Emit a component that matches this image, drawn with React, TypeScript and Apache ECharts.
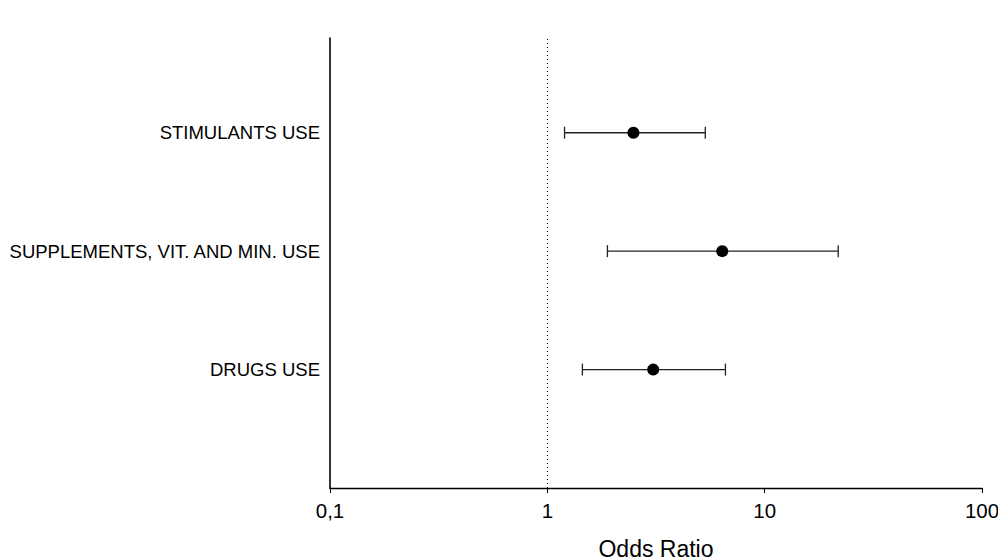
import React, { useEffect, useRef } from "react";
import * as echarts from "echarts";

const categories = ["DRUGS USE", "SUPPLEMENTS, VIT. AND MIN. USE", "STIMULANTS USE"];
const oddsRatio = [3.07, 6.38, 2.49];
const ciLow = [1.45, 1.89, 1.2];
const ciHigh = [6.6, 21.8, 5.33];
const xTicks = [0.1, 1, 10, 100];
const xTickLabels = ["0,1", "1", "10", "100"];

const FONT = "'Liberation Sans', Arial, sans-serif";

export default function App() {
  const ref = useRef<HTMLDivElement>(null);
  useEffect(() => {
    if (!ref.current) return;
    const chart = echarts.init(ref.current, undefined, { renderer: "svg" });
    const barData = categories.map((_, i) => [i + 1, ciLow[i], ciHigh[i]]);
    const pointData = categories.map((_, i) => [oddsRatio[i], i + 1]);
    chart.setOption({
      animation: false,
      backgroundColor: "#ffffff",
      grid: { left: 330, right: 16, top: 38, bottom: 72, containLabel: false, outerBoundsMode: "none" },
      xAxis: {
        type: "log",
        logBase: 10,
        min: 0.1,
        max: 100,
        name: "Odds Ratio",
        nameLocation: "middle",
        nameGap: 49,
        nameTextStyle: { fontFamily: FONT, fontSize: 23, color: "#000" },
        axisLine: { show: true, lineStyle: { color: "#000", width: 1.3 } },
        axisTick: { show: true, length: 5, lineStyle: { color: "#000" } },
        minorTick: { show: false },
        splitLine: { show: false },
        axisLabel: {
          fontFamily: FONT,
          fontSize: 20.5,
          color: "#000",
          margin: 12,
          formatter: (v: number) => {
            const idx = xTicks.findIndex((t) => Math.abs(Math.log10(t) - Math.log10(v)) < 1e-6);
            return idx >= 0 ? xTickLabels[idx] : "";
          },
        },
      },
      yAxis: {
        type: "value",
        min: 0,
        max: 3.8,
        interval: 1,
        axisLine: { show: true, lineStyle: { color: "#000", width: 1.6 } },
        axisTick: { show: false },
        splitLine: { show: false },
        axisLabel: {
          fontFamily: FONT,
          fontSize: 18.5,
          color: "#000",
          margin: 10,
          formatter: (v: number) => {
            const i = Math.round(v) - 1;
            return i >= 0 && i < categories.length && Math.abs(v - Math.round(v)) < 1e-6 ? categories[i] : "";
          },
        },
      },
      series: [
        {
          type: "custom",
          data: barData,
          z: 2,
          renderItem: (params: any, api: any) => {
            const y = api.value(0);
            const lo = api.coord([api.value(1), y]);
            const hi = api.coord([api.value(2), y]);
            const cap = 6;
            const style = { stroke: "#222", lineWidth: 1.3 };
            return {
              type: "group",
              children: [
                { type: "line", shape: { x1: lo[0], y1: lo[1], x2: hi[0], y2: hi[1] }, style },
                { type: "line", shape: { x1: lo[0], y1: lo[1] - cap, x2: lo[0], y2: lo[1] + cap }, style },
                { type: "line", shape: { x1: hi[0], y1: hi[1] - cap, x2: hi[0], y2: hi[1] + cap }, style },
              ],
            };
          },
          encode: { x: [1, 2], y: 0 },
        },
        {
          type: "scatter",
          data: pointData,
          symbol: "circle",
          symbolSize: 12,
          itemStyle: { color: "#000", opacity: 1 },
          z: 3,
          markLine: {
            silent: true,
            symbol: "none",
            label: { show: false },
            lineStyle: { color: "#000", type: [1, 3], width: 1 },
            data: [{ xAxis: 1 }],
          },
        },
      ],
    });
    return () => chart.dispose();
  }, []);
  return <div ref={ref} style={{ width: 998, height: 560, position: "absolute", left: 0, top: 0 }} />;
}
